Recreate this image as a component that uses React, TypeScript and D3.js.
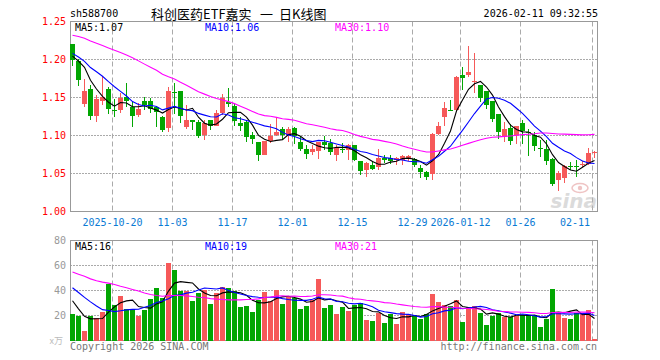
import React from 'react';
import * as d3 from 'd3';

// ---------- data ----------
const dateLabels = ['2025-10-20', '11-03', '11-17', '12-01', '12-15', '12-29', '2026-01-12', '01-26', '02-11'];
const dateLabelIndex = [7, 17, 27, 37, 47, 57, 65, 75, 87];

// closes of the 29 sessions before the first visible candle (feed the moving averages)
const priorClose = [
  1.222, 1.228, 1.237, 1.234, 1.241, 1.230, 1.225, 1.236, 1.244, 1.233,
  1.262, 1.268, 1.259, 1.250, 1.264, 1.257, 1.248, 1.253, 1.241, 1.244,
  1.222, 1.215, 1.208, 1.203, 1.211, 1.206, 1.199, 1.212, 1.205,
];

const open = [
  1.220, 1.198, 1.142, 1.161, 1.126, 1.145, 1.161, 1.134, 1.134, 1.151,
  1.138, 1.127, 1.146, 1.146, 1.137, 1.125, 1.110, 1.157, 1.159, 1.111,
  1.121, 1.118, 1.101, 1.120, 1.113, 1.130, 1.144, 1.139, 1.116, 1.118,
  1.100, 1.091, 1.075, 1.093, 1.100, 1.109, 1.101, 1.110, 1.092, 1.082,
  1.078, 1.080, 1.092, 1.090, 1.075, 1.082, 1.081, 1.087, 1.067, 1.055,
  1.061, 1.058, 1.071, 1.071, 1.068, 1.068, 1.071, 1.069, 1.057, 1.052,
  1.049, 1.102, 1.124, 1.134, 1.134, 1.179, 1.179, 1.171, 1.167, 1.159,
  1.146, 1.128, 1.098, 1.110, 1.100, 1.117, 1.105, 1.100, 1.083, 1.082,
  1.069, 1.041, 1.044, 1.060, 1.060, 1.061, 1.063, 1.077,
];
const high = [
  1.221, 1.201, 1.175, 1.167, 1.153, 1.178, 1.164, 1.148, 1.156, 1.169,
  1.145, 1.143, 1.151, 1.149, 1.138, 1.126, 1.164, 1.169, 1.159, 1.140,
  1.121, 1.121, 1.120, 1.120, 1.134, 1.154, 1.162, 1.143, 1.124, 1.121,
  1.105, 1.091, 1.093, 1.115, 1.124, 1.111, 1.111, 1.111, 1.099, 1.087,
  1.088, 1.092, 1.100, 1.096, 1.088, 1.090, 1.089, 1.087, 1.067, 1.065,
  1.066, 1.082, 1.075, 1.075, 1.072, 1.074, 1.075, 1.070, 1.061, 1.053,
  1.103, 1.118, 1.144, 1.147, 1.178, 1.190, 1.218, 1.208, 1.167, 1.159,
  1.146, 1.128, 1.118, 1.115, 1.113, 1.121, 1.109, 1.105, 1.094, 1.094,
  1.071, 1.053, 1.061, 1.065, 1.068, 1.066, 1.083, 1.079,
];
const low = [
  1.192, 1.165, 1.137, 1.121, 1.118, 1.140, 1.128, 1.124, 1.129, 1.138,
  1.111, 1.124, 1.134, 1.129, 1.111, 1.104, 1.104, 1.128, 1.116, 1.109,
  1.107, 1.097, 1.094, 1.107, 1.112, 1.127, 1.138, 1.113, 1.106, 1.092,
  1.089, 1.067, 1.075, 1.090, 1.099, 1.094, 1.091, 1.089, 1.079, 1.069,
  1.075, 1.069, 1.081, 1.075, 1.067, 1.077, 1.068, 1.066, 1.048, 1.045,
  1.055, 1.055, 1.064, 1.062, 1.061, 1.061, 1.066, 1.058, 1.044, 1.042,
  1.042, 1.101, 1.112, 1.132, 1.132, 1.160, 1.177, 1.156, 1.144, 1.135,
  1.118, 1.096, 1.092, 1.088, 1.089, 1.089, 1.073, 1.080, 1.072, 1.061,
  1.033, 1.027, 1.038, 1.054, 1.045, 1.059, 1.061, 1.071,
];
const close = [
  1.200, 1.173, 1.159, 1.126, 1.148, 1.151, 1.135, 1.133, 1.150, 1.145,
  1.126, 1.135, 1.140, 1.135, 1.131, 1.107, 1.158, 1.156, 1.126, 1.121,
  1.118, 1.099, 1.117, 1.113, 1.129, 1.149, 1.142, 1.119, 1.113, 1.098,
  1.096, 1.075, 1.093, 1.099, 1.105, 1.101, 1.108, 1.099, 1.082, 1.076,
  1.082, 1.091, 1.088, 1.078, 1.084, 1.081, 1.088, 1.068, 1.053, 1.064,
  1.056, 1.070, 1.068, 1.067, 1.070, 1.073, 1.073, 1.061, 1.052, 1.046,
  1.102, 1.113, 1.136, 1.133, 1.177, 1.175, 1.183, 1.172, 1.149, 1.140,
  1.122, 1.104, 1.109, 1.093, 1.112, 1.106, 1.103, 1.086, 1.082, 1.067,
  1.036, 1.051, 1.060, 1.059, 1.059, 1.062, 1.077, 1.078,
];

// volume (x万), 29 prior sessions + visible sessions
const priorVolume = [
  72, 58, 81, 64, 55, 70, 62, 77, 60, 68, 59, 73, 66, 68,
  52, 44, 57, 41, 48, 46,
  58, 47, 55, 51, 52,
  52, 38, 29.5, 18,
];
const volume = [
  21.6, 19.5, 8, 19.5, 18.1, 22.7, 45.6, 28.5, 36, 25.6,
  25.6, 20, 24.8, 33.6, 42.4, 34.4, 62.4, 56.8, 39.5, 39.5,
  32, 38.4, 40.8, 29.6, 38.4, 43.2, 42.4, 40, 27.2, 28,
  23.2, 32.8, 39.2, 32, 40.8, 29.6, 35.2, 34.4, 25.6, 28,
  32.8, 49.6, 26.4, 28.8, 21.6, 27.2, 24, 28.8, 30.4, 16.8,
  16, 22.4, 14.4, 21.6, 13.6, 23.2, 21.6, 20, 17.6, 21.6,
  37.6, 31.2, 28.8, 28, 32.8, 15.2, 27.2, 28, 22.4, 12.8,
  20, 22.4, 19.2, 19.2, 20, 20.8, 20.8, 20.8, 11.2, 17.6,
  41.6, 22.4, 18.4, 17.6, 22.4, 22.4, 24.8, 0.8,
];

const priceTicks = [1.0, 1.05, 1.1, 1.15, 1.2, 1.25];
const volumeTicks = [20, 40, 60, 80];
const maPeriods = [5, 10, 30];
const priceLegend = ['MA5:1.07', 'MA10:1.06', 'MA30:1.10'];
const volumeLegend = ['MA5:16', 'MA10:19', 'MA30:21'];
const headerCode = 'sh588700';
const headerTitleParts = ['科创医药ETF嘉实', '一', '日K线图'];
const headerTime = '2026-02-11 09:32:55';
const unitLabel = 'x万';
const copyrightText = 'Copyright 2026 SINA.COM';
const urlText = 'http://finance.sina.com.cn';

// ---------- styles ----------
const RED = '#f65959';
const GREEN = '#02a602';
const MA_COLORS = ['#000000', '#0000ff', '#ff00ff'];
const MONO = "'DejaVu Sans Mono', 'Liberation Mono', monospace";
const CJK = "'Noto Sans CJK SC', sans-serif";
const GRID = '#aaaaaa';

function movingAverage(prior: number[], values: number[], p: number): number[] {
  const all = prior.concat(values);
  const off = prior.length;
  return values.map((_, k) => d3.mean(all.slice(off + k - p + 1, off + k + 1)) as number);
}

export default function App() {
  const W = 660, H = 360;
  const left = 70, right = 598;
  const pTop = 21.5, pBot = 211.5, vTop = 240.5, vBot = 340.5;
  const n = close.length;

  const x = d3.scaleBand<number>().domain(d3.range(n)).range([left, left + 6 * n - 1]).paddingInner(1 / 6).paddingOuter(0);
  const bw = x.bandwidth();
  const cx = (k: number) => (x(k) as number) + bw / 2;

  const y = d3.scaleLinear().domain([1.0, 1.25]).range([pBot, pTop]);
  const vy = d3.scaleLinear().domain([0, 80]).range([vBot, vTop]);

  const priceMA = maPeriods.map((p) => movingAverage(priorClose, close, p));
  const volMA = maPeriods.map((p) => movingAverage(priorVolume, volume, p));

  const pLine = d3.line<number>().x((_, i) => cx(i)).y((d) => y(d));
  const vLine = d3.line<number>().x((_, i) => cx(i)).y((d) => vy(d));

  const up = (k: number) => close[k] >= open[k];

  return (
    <svg width={W} height={H} style={{ position: 'absolute', left: 0, top: 0, background: '#fff' }}>
      <defs>
        <clipPath id="clipP"><rect x={left} y={21} width={right - left} height={191} /></clipPath>
        <clipPath id="clipV"><rect x={left} y={240} width={right - left} height={101} /></clipPath>
      </defs>
      <rect x={0} y={0} width={W} height={H} fill="#fff" />

      {/* header */}
      <text x={70} y={13} fontFamily={MONO} fontSize={10} dominantBaseline="central" fill="#000">{headerCode}</text>
      <text y={13} fontFamily={CJK} fontSize={13} dominantBaseline="central" fill="#000">
        <tspan x={151}>{headerTitleParts[0]}</tspan>
        <tspan x={260}>{headerTitleParts[1]}</tspan>
        <tspan x={279}>{headerTitleParts[2]}</tspan>
      </text>
      <text x={598} y={13} fontFamily={MONO} fontSize={10} textAnchor="end" dominantBaseline="central" fill="#000">{headerTime}</text>

      {/* grids */}
      {priceTicks.filter((t) => t > 1.0 && t < 1.25).map((t) => (
        <line key={'pg' + t} x1={left} x2={right} y1={y(t)} y2={y(t)} stroke={GRID} strokeDasharray="2,1" shapeRendering="crispEdges" />
      ))}
      {volumeTicks.filter((t) => t < 80).map((t) => (
        <line key={'vg' + t} x1={left} x2={right} y1={vy(t)} y2={vy(t)} stroke={GRID} strokeDasharray="2,1" shapeRendering="crispEdges" />
      ))}
      {dateLabelIndex.map((k) => (
        <g key={'vd' + k}>
          <line x1={(x(k) as number) + 0.5} x2={(x(k) as number) + 0.5} y1={pTop} y2={pBot} stroke={GRID} strokeDasharray="5,3" />
          <line x1={(x(k) as number) + 0.5} x2={(x(k) as number) + 0.5} y1={vTop} y2={vBot} stroke={GRID} strokeDasharray="5,3" />
        </g>
      ))}

      {/* frames */}
      <rect x={left + 0.5} y={pTop} width={right - left - 1} height={pBot - pTop} fill="none" stroke="#999" />
      <rect x={left + 0.5} y={vTop} width={right - left - 1} height={vBot - vTop} fill="none" stroke="#999" />

      {/* watermark */}
      <g opacity={0.5}>
        <ellipse cx={580} cy={188} rx={8} ry={4.5} fill="none" stroke="#e08a8a" strokeWidth={1.5} />
        <circle cx={580} cy={188} r={2.2} fill="#e08a8a" />
        <text x={597} y={208} textAnchor="end" fontFamily="'DejaVu Sans', sans-serif" fontStyle="italic" fontWeight="bold" fontSize={20} fill="#b8b8b8">sina</text>
      </g>

      {/* y labels */}
      {priceTicks.map((t) => (
        <text key={'pl' + t} x={66} y={y(t)} textAnchor="end" dominantBaseline="central" fontFamily={MONO} fontSize={10} fill="#ff0000">{t.toFixed(2)}</text>
      ))}
      {volumeTicks.map((t) => (
        <text key={'vl' + t} x={66} y={vy(t)} textAnchor="end" dominantBaseline="central" fontFamily={MONO} fontSize={10} fill="#999">{t}</text>
      ))}
      <text x={63} y={340} textAnchor="end" dominantBaseline="central" fontFamily={CJK} fontSize={9} fill="#bbb">{unitLabel}</text>

      {/* date labels (last one kept inside the frame) */}
      {dateLabelIndex.map((k, i) => {
        const last = i === dateLabelIndex.length - 1;
        return (
          <text key={'dl' + k} x={last ? 590 : (x(k) as number) + 0.5} y={222} textAnchor={last ? 'end' : 'middle'} dominantBaseline="central" fontFamily={MONO} fontSize={10} fill="#0a7ad4">{dateLabels[i]}</text>
        );
      })}

      {/* candles */}
      {close.map((c, k) => {
        const col = up(k) ? RED : GREEN;
        const top = Math.round(y(Math.max(open[k], c)));
        const bot = Math.round(y(Math.min(open[k], c)));
        return (
          <g key={'c' + k}>
            <line x1={cx(k)} x2={cx(k)} y1={y(high[k])} y2={y(low[k])} stroke={col} strokeWidth={1} shapeRendering="crispEdges" />
            <rect x={x(k)} y={top} width={bw} height={Math.max(1, bot - top)} fill={col} shapeRendering="crispEdges" />
          </g>
        );
      })}

      {/* price MA */}
      <g clipPath="url(#clipP)">
        {priceMA.map((m, i) => (
          <path key={'pm' + i} d={pLine(m) as string} fill="none" stroke={MA_COLORS[i]} strokeWidth={1.1} />
        ))}
      </g>

      {/* volume bars */}
      {volume.map((v, k) => {
        const top = Math.round(vy(v));
        return (
          <rect key={'v' + k} x={x(k)} y={top} width={bw} height={Math.max(1, Math.round(vBot) - top)} fill={up(k) ? RED : GREEN} shapeRendering="crispEdges" />
        );
      })}
      <g clipPath="url(#clipV)">
        {volMA.map((m, i) => (
          <path key={'vm' + i} d={vLine(m) as string} fill="none" stroke={MA_COLORS[i]} strokeWidth={1.1} />
        ))}
      </g>

      {/* legends */}
      {priceLegend.map((t, i) => (
        <text key={'plg' + i} x={[75, 205, 335][i]} y={27.5} dominantBaseline="central" fontFamily={MONO} fontSize={10} fill={MA_COLORS[i]}>{t}</text>
      ))}
      {volumeLegend.map((t, i) => (
        <text key={'vlg' + i} x={[75, 205, 335][i]} y={246} dominantBaseline="central" fontFamily={MONO} fontSize={10} fill={MA_COLORS[i]}>{t}</text>
      ))}

      {/* footer */}
      <text x={70} y={346} dominantBaseline="central" fontFamily={MONO} fontSize={10} fill="#777">{copyrightText}</text>
      <text x={597} y={346} textAnchor="end" dominantBaseline="central" fontFamily={MONO} fontSize={10} fill="#777">{urlText}</text>
    </svg>
  );
}
